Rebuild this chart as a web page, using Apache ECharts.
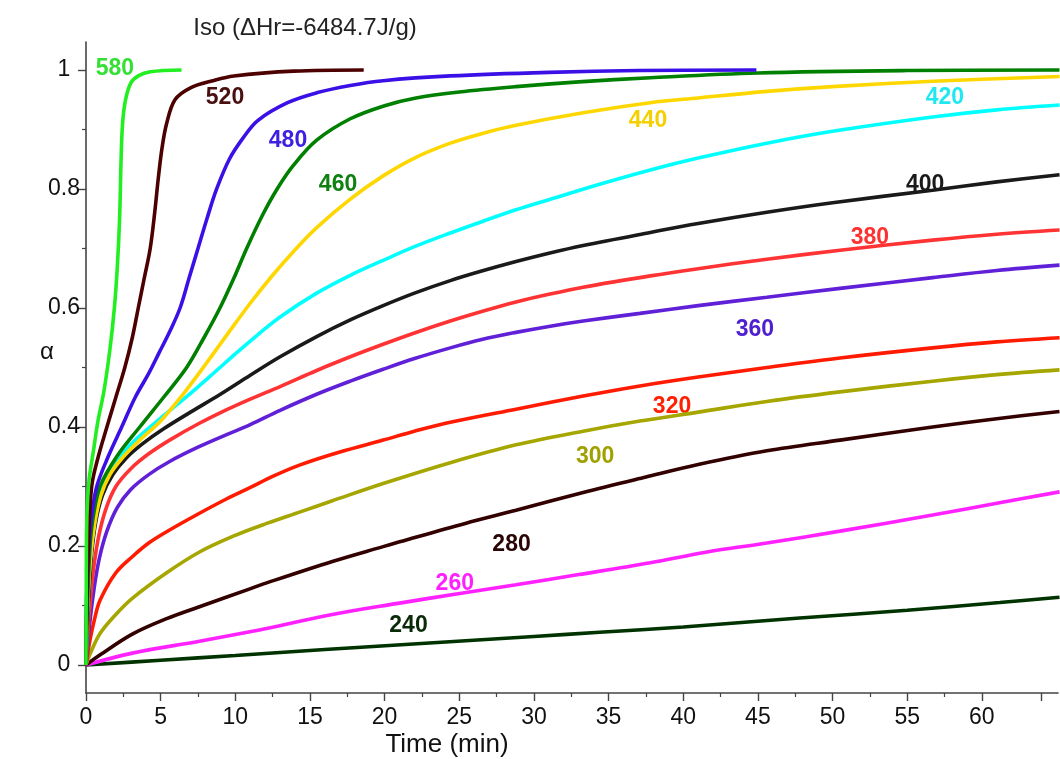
<!DOCTYPE html>
<html>
<head>
<meta charset="utf-8">
<script src="https://cdn.jsdelivr.net/npm/echarts@6/dist/echarts.min.js"></script>
<style>
html, body { margin: 0; padding: 0; background: #ffffff; }
#chart { width: 1060px; height: 759px; }
</style>
</head>
<body>
<div id="chart"></div>
<script>
// Isothermal conversion curves: [time (min), alpha] per cure temperature
const s580 = [[0,0],[0.02,0.15],[0.06,0.25],[0.2,0.31],[0.5,0.36],[0.8,0.41],[1.2,0.46],[1.6,0.53],[1.9,0.6],[2.1,0.67],[2.25,0.75],[2.35,0.85],[2.45,0.91],[2.65,0.95],[3.0,0.978],[3.5,0.99],[4.3,0.997],[6.4,1.0]];
const s520 = [[0,0],[0.05,0.1],[0.16,0.2],[0.38,0.3],[0.82,0.35],[1.4,0.4],[2.0,0.45],[2.6,0.5],[3.1,0.55],[3.5,0.6],[3.9,0.65],[4.3,0.7],[4.6,0.76],[4.85,0.82],[5.1,0.87],[5.4,0.91],[5.96,0.95],[7.0,0.97],[8.5,0.982],[9.9,0.99],[13.9,0.998],[18.6,1.0]];
const s480 = [[0,0],[0.05,0.12],[0.2,0.2],[0.38,0.25],[0.72,0.3],[1.48,0.35],[2.39,0.4],[3.3,0.45],[4.2,0.49],[4.9,0.525],[5.6,0.56],[6.3,0.6],[6.9,0.65],[7.5,0.7],[8.1,0.75],[8.75,0.8],[9.6,0.85],[10.5,0.885],[11.5,0.915],[13.5,0.945],[15.5,0.962],[17.7,0.974],[19.9,0.982],[24.4,0.99],[31,0.996],[37,0.999],[44.9,1.0]];
const s460 = [[0,0],[0.1,0.1],[0.27,0.2],[0.49,0.25],[0.94,0.3],[2.05,0.35],[3.6,0.4],[5.2,0.45],[6.74,0.5],[7.9,0.55],[8.97,0.6],[9.9,0.65],[10.76,0.7],[11.8,0.755],[12.8,0.8],[13.9,0.84],[15.45,0.882],[17.7,0.918],[20,0.94],[22.1,0.953],[25,0.963],[28.8,0.972],[33,0.98],[37.8,0.987],[45,0.995],[55,0.999],[65.2,1.0]];
const s440 = [[0,0],[0.1,0.1],[0.3,0.18],[0.6,0.24],[1,0.285],[1.6,0.32],[2.5,0.35],[3.6,0.378],[5,0.41],[6.5,0.455],[8,0.505],[9.5,0.557],[11,0.608],[12.5,0.655],[13.9,0.695],[15.45,0.735],[17.7,0.783],[19.9,0.822],[22,0.852],[24.4,0.877],[26.5,0.893],[28.8,0.907],[33.3,0.928],[37.8,0.945],[41,0.953],[45.6,0.964],[50,0.972],[56.7,0.981],[65.2,0.989]];
const s420 = [[0,0],[0.12,0.1],[0.3,0.18],[0.6,0.245],[1,0.29],[1.6,0.325],[2.5,0.357],[3.6,0.385],[5,0.415],[6.6,0.448],[8.3,0.485],[10,0.523],[11.5,0.555],[13,0.585],[15.45,0.625],[17.7,0.655],[19.9,0.68],[22,0.703],[24.4,0.726],[26.5,0.745],[28.8,0.765],[31,0.782],[34.4,0.808],[37.8,0.832],[41,0.852],[45.6,0.877],[50,0.897],[56.7,0.921],[61,0.933],[65.2,0.941]];
const s400 = [[0,0],[0.15,0.1],[0.35,0.18],[0.65,0.24],[1.1,0.285],[1.8,0.32],[2.7,0.348],[3.8,0.372],[5.2,0.397],[7,0.425],[9,0.455],[11,0.487],[13,0.518],[15.45,0.552],[17.7,0.58],[19.9,0.604],[22,0.625],[24.4,0.646],[26.5,0.662],[28.8,0.678],[31,0.692],[33.3,0.705],[37.8,0.727],[41,0.742],[45.6,0.761],[50,0.777],[56.7,0.798],[61,0.812],[65.2,0.824]];
const s380 = [[0,0],[0.2,0.08],[0.45,0.15],[0.8,0.21],[1.3,0.26],[2,0.3],[3,0.33],[4.2,0.355],[5.6,0.378],[7.5,0.405],[9.5,0.43],[11,0.447],[13,0.468],[15.45,0.495],[17.7,0.518],[19.9,0.539],[22,0.558],[24.4,0.578],[26.5,0.594],[28.8,0.61],[31,0.623],[33.3,0.635],[37.8,0.654],[41,0.666],[45.6,0.682],[50.5,0.697],[56.7,0.714],[61,0.724],[65.2,0.731]];
const s360 = [[0,0],[0.25,0.07],[0.55,0.13],[0.9,0.18],[1.4,0.225],[2.1,0.265],[3,0.295],[4.2,0.32],[5.6,0.342],[7.5,0.366],[9.5,0.388],[11,0.404],[13,0.428],[15.45,0.455],[17.7,0.477],[19.9,0.497],[22,0.515],[24.4,0.533],[26.5,0.547],[28.8,0.559],[31,0.569],[33.3,0.578],[37.1,0.591],[41,0.604],[45.6,0.618],[50.5,0.633],[56.7,0.651],[61,0.663],[65.2,0.672]];
const s320 = [[0,0],[0.27,0.042],[0.6,0.08],[0.94,0.109],[2,0.155],[3.1,0.182],[4.2,0.205],[5.4,0.224],[7.6,0.255],[9.4,0.279],[10.98,0.298],[12.5,0.317],[14.3,0.336],[17,0.358],[19.9,0.378],[22,0.393],[24.4,0.408],[28.8,0.43],[33.3,0.452],[37.1,0.469],[41,0.484],[45.6,0.5],[50.5,0.516],[56.7,0.533],[61,0.543],[65.2,0.55]];
const s300 = [[0,0],[0.3,0.02],[0.94,0.053],[2,0.085],[3.1,0.112],[5.4,0.155],[7.6,0.19],[10,0.218],[12.1,0.238],[14.3,0.257],[16.5,0.276],[19.9,0.305],[24.4,0.34],[28.8,0.37],[33.3,0.393],[37.1,0.41],[41,0.425],[45.6,0.443],[50.5,0.459],[56.7,0.477],[61,0.488],[65.2,0.496]];
const s280 = [[0,0],[1,0.018],[3.1,0.052],[5.4,0.078],[7.6,0.098],[10.98,0.128],[12.1,0.138],[16.5,0.174],[19.9,0.199],[21,0.207],[25.4,0.238],[28.8,0.26],[33.3,0.29],[37.5,0.316],[41,0.337],[45.6,0.36],[50.5,0.378],[56.7,0.4],[61,0.414],[65.2,0.426]];
const s260 = [[0,0],[3.1,0.02],[7.6,0.04],[10.98,0.056],[12.1,0.0615],[16.5,0.085],[21,0.104],[24.7,0.119],[28.8,0.135],[33,0.152],[37.8,0.172],[41.6,0.19],[45.6,0.205],[50.5,0.225],[56.7,0.252],[61,0.272],[65.2,0.291]];
const s240 = [[0,0],[5,0.008],[10,0.016],[16,0.026],[23,0.037],[30,0.048],[34.4,0.055],[40,0.064],[47.8,0.079],[55,0.092],[61.2,0.105],[65.2,0.114]];

// Curve names (cure temperature) and their drawing order
const temps = ['580','520','480','460','440','420','400','380','360','320','300','280','260','240'];
const curves = [s580,s520,s480,s460,s440,s420,s400,s380,s360,s320,s300,s280,s260,s240];

// Axis tick labels
const xTicks = [0,5,10,15,20,25,30,35,40,45,50,55,60];
const yTicks = [0,0.2,0.4,0.6,0.8,1];

// Styling per curve
const colors = ['#22ee22','#4d0000','#3a10e6','#008000','#ffd700','#00ffff','#1a1a1a','#ff3333','#6020d8','#ff1a00','#a6a600','#330000','#ff22ff','#003300'];
const labelColors = ['#33e033','#4a1010','#4020e0','#108010','#f5d000','#20e8f0','#1a1a1a','#ff3030','#5020d0','#ff2000','#a0a000','#2a0505','#ff20ff','#0a2a0a'];
// where each temperature tag sits, in data units [t, alpha]
const tagAt = [[1.94,1.002],[9.31,0.953],[13.53,0.881],[16.88,0.808],[37.64,0.914],[57.53,0.953],[56.2,0.807],[52.5,0.718],[44.8,0.563],[39.25,0.434],[34.1,0.35],[28.5,0.203],[24.7,0.136],[21.6,0.066]];

const X_MAX = 65.1, Y_MIN = -0.047, Y_MAX = 1.047;
const axisColor = '#444';
const font = 'Arial, "Liberation Sans", sans-serif';

const chart = echarts.init(document.getElementById('chart'), null, { renderer: 'canvas' });

const series = curves.map((d, i) => ({
  name: temps[i],
  type: 'line',
  data: d,
  xAxisIndex: 0,
  yAxisIndex: 0,
  showSymbol: false,
  smooth: 0.35,
  lineStyle: { color: colors[i], width: 3.6 },
  z: 20 - i,
  markPoint: {
    symbol: 'circle',
    symbolSize: 0,
    silent: true,
    data: [{ coord: tagAt[i], value: temps[i] }],
    label: {
      show: true,
      position: 'inside',
      formatter: temps[i],
      color: labelColors[i],
      fontSize: 23,
      fontWeight: 'bold',
      fontFamily: font
    }
  }
}));

const option = {
  animation: false,
  backgroundColor: '#ffffff',
  grid: { left: 86, right: 2, top: 42, bottom: 66 },
  xAxis: [
    {
      type: 'value', min: 0, max: X_MAX,
      axisLine: { show: true, onZero: false, lineStyle: { color: axisColor, width: 1.6 } },
      axisTick: { show: true, customValues: xTicks.concat([64]), length: 8, lineStyle: { color: axisColor, width: 1.4 } },
      axisLabel: { customValues: xTicks, fontSize: 23, color: '#111', fontFamily: font, margin: 13 },
      splitLine: { show: false }
    },
    {
      type: 'value', min: 0, max: X_MAX, position: 'bottom',
      axisLine: { show: false, onZero: false },
      axisTick: { show: true, customValues: [2.5,7.5,12.5,17.5,22.5,27.5,32.5,37.5,42.5,47.5,52.5,57.5], length: 4, lineStyle: { color: axisColor, width: 1.2 } },
      axisLabel: { show: false },
      splitLine: { show: false }
    }
  ],
  yAxis: [
    {
      type: 'value', min: Y_MIN, max: Y_MAX,
      axisLine: { show: true, onZero: false, lineStyle: { color: axisColor, width: 1.6 } },
      axisTick: { show: true, customValues: yTicks, length: 8, lineStyle: { color: axisColor, width: 1.4 } },
      axisLabel: { customValues: yTicks, fontSize: 23, color: '#111', fontFamily: font, margin: 22, align: 'center' },
      splitLine: { show: false }
    },
    {
      type: 'value', min: Y_MIN, max: Y_MAX, position: 'left',
      axisLine: { show: false, onZero: false },
      axisTick: { show: true, customValues: [0.1,0.3,0.5,0.7,0.9], length: 4, lineStyle: { color: axisColor, width: 1.2 } },
      axisLabel: { show: false },
      splitLine: { show: false }
    }
  ],
  graphic: [
    { type: 'text', x: 305, y: 28, style: { text: 'Iso (\u0394Hr=-6484.7J/g)', fontSize: 24, fontFamily: font, fill: '#222', align: 'center', verticalAlign: 'middle' } },
    { type: 'text', x: 47, y: 352, style: { text: '\u03b1', fontSize: 24, fontFamily: font, fill: '#111', align: 'center', verticalAlign: 'middle' } },
    { type: 'text', x: 447, y: 745, style: { text: 'Time (min)', fontSize: 26, fontFamily: font, fill: '#111', align: 'center', verticalAlign: 'middle' } }
  ],
  series: series
};

chart.setOption(option);
</script>
</body>
</html>
